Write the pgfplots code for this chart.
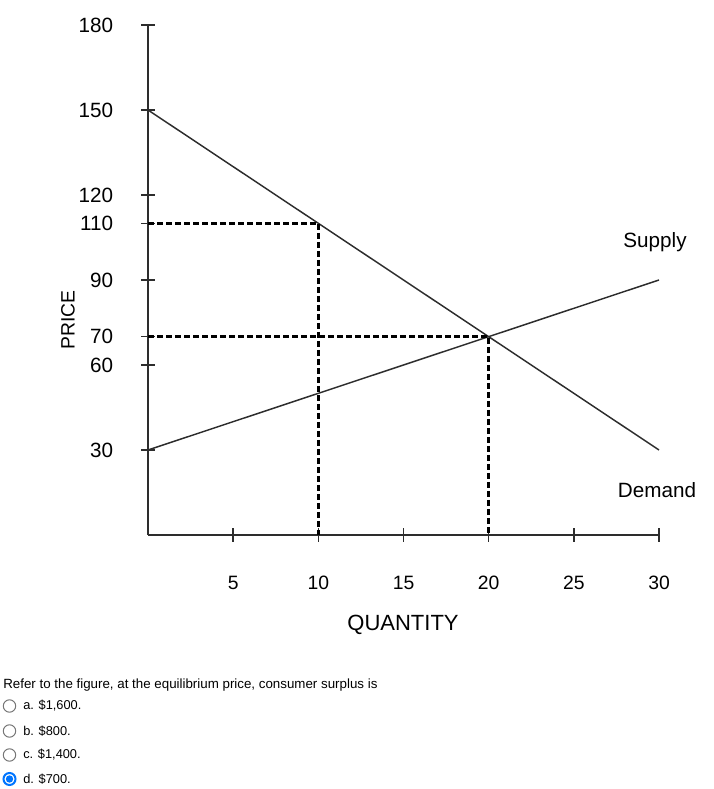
\documentclass[border=0pt]{standalone}
\usepackage{pgfplots}
\pgfplotsset{compat=1.18}
\usepackage{fontspec}
\setmainfont{Liberation Sans}
\definecolor{radioblue}{RGB}{0,117,255}
\definecolor{radiogray}{RGB}{118,118,118}
\definecolor{axgray}{RGB}{45,45,45}
\begin{document}
\begin{tikzpicture}[x=0.75pt,y=0.75pt]
\path[use as bounding box] (0,0) rectangle (714,789);
\begin{axis}[
  at={(111pt,190.5pt)}, anchor=origin,
  scale only axis, width=383.25pt, height=382.5pt,
  xmin=0, xmax=30, ymin=0, ymax=180,
  axis x line=bottom, axis y line=left,
  axis line style={-, line width=1.6pt, color=axgray},
  xtick={5,10,15,20,25,30},
  ytick={30,60,70,90,110,120,150,180},
  tick align=center,
  major tick length=10pt,
  every tick/.style={line width=1.2pt, color=axgray},
  /pgf/number format/assume math mode=true,
  x tick label style={font=\fontsize{14.5}{16}\selectfont, anchor=center, inner sep=0pt, yshift=-31pt},
  y tick label style={font=\fontsize{15.5}{17}\selectfont, anchor=east, inner sep=0pt, xshift=-21pt},
  clip=false,
]
\addplot[line width=1.1pt, color=axgray] coordinates {(0,150) (30,30)};
\addplot[line width=1.1pt, color=axgray] coordinates {(0,30) (30,90)};
\addplot[line width=1.8pt, black, dash pattern=on 4.5pt off 2.25pt] coordinates {(0,110) (10,110) (10,0)};
\addplot[line width=1.8pt, black, dash pattern=on 4.5pt off 2.25pt] coordinates {(0,70) (20,70) (20,0)};
\end{axis}
\node[font=\fontsize{15.5}{18}\selectfont] at (655,547) {Supply};
\node[font=\fontsize{15.5}{18}\selectfont] at (657,299) {Demand};
\node[font=\fontsize{16.5}{18}\selectfont] at (403,164) {QUANTITY};
\node[font=\fontsize{14.5}{18}\selectfont, rotate=90] at (68,469) {PRICE};
\node[font=\fontsize{10}{11}\selectfont, anchor=west, inner sep=0pt] at (3,104) {Refer to the figure, at the equilibrium price, consumer surplus is};
\node[font=\fontsize{9.6}{11}\selectfont, anchor=west, inner sep=0pt] at (23,83) {a. \$1,600.};
\node[font=\fontsize{9.6}{11}\selectfont, anchor=west, inner sep=0pt] at (23,58) {b. \$800.};
\node[font=\fontsize{9.6}{11}\selectfont, anchor=west, inner sep=0pt] at (23,34) {c. \$1,400.};
\node[font=\fontsize{9.6}{11}\selectfont, anchor=west, inner sep=0pt] at (23,10) {d. \$700.};
\draw[radiogray, line width=0.75pt] (9.5,83) circle (6.2);
\draw[radiogray, line width=0.75pt] (9.5,58) circle (6.2);
\draw[radiogray, line width=0.75pt] (9.5,34) circle (6.2);
\draw[radioblue, line width=1.5pt] (9.5,10) circle (6);
\fill[radioblue] (9.5,10) circle (3.7);
\end{tikzpicture}
\end{document}
